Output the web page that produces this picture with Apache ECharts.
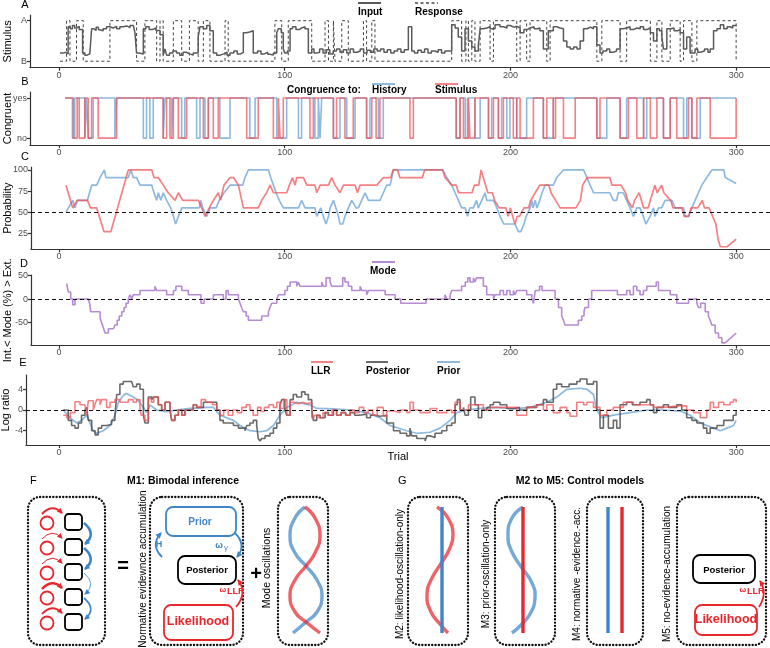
<!DOCTYPE html>
<html><head><meta charset="utf-8">
<script src="https://cdn.jsdelivr.net/npm/echarts@6/dist/echarts.min.js"></script>
<style>html,body{margin:0;padding:0;background:#fff}#c{width:770px;height:648px}</style>
</head><body><div id="c"></div>
<script>
// ---------------- DATA ----------------
const trialTicks = [0, 100, 200, 300];
const stimTickValues = [0, 1];
const stimTickLabels = ['B', 'A'];
const congTickLabels = ['no', 'yes'];
const probTicks = [25, 50, 75, 100];
const modeTicks = [-50, 0, 50];
const logTicks = [-4, 0, 4];

const aInput = [[0.5,0.2],[2,0.22],[3,0.18],[4.1,0.85],[5,0.8],[6,0.88],[7,0.82],[8,0.86],[9,0.78],[10.5,0.2],[11.5,0.15],[12.5,0.18],[13.7,0.15],[14.5,0.8],[15.5,0.76],[16.5,0.84],[17.5,0.78],[18.2,0.75],[19.6,0.8],[21.1,0.85],[22.5,0.82],[24,0.86],[25.6,0.8],[27,0.85],[28.5,0.87],[30,0.83],[31.5,0.88],[33,0.85],[33.7,0.7],[34.4,0.2],[35.5,0.18],[37.4,0.8],[38.5,0.85],[40,0.78],[41.5,0.82],[43,0.76],[44.8,0.65],[46.2,0.15],[47,0.3],[47.7,0.15],[49,0.2],[50.5,0.25],[52.1,0.2],[53.5,0.15],[55,0.22],[56.5,0.18],[58,0.15],[59.5,0.2],[61.7,0.6],[62.5,0.85],[64,0.8],[65.5,0.88],[66.9,0.75],[68.4,0.2],[69.9,0.15],[71.5,0.18],[73,0.22],[74.5,0.15],[75.8,0.2],[77.5,0.25],[79,0.18],[80.5,0.22],[81.7,0.7],[83,0.72],[84.5,0.75],[86.1,0.2],[88,0.25],[89.5,0.18],[91,0.22],[92.5,0.17],[93.5,0.15],[95,0.2],[96.5,0.7],[97.2,0.8],[98.5,0.7],[99.4,0.3],[100.1,0.2],[101.2,0.25],[102.4,0.8],[103.5,0.85],[105,0.78],[106.5,0.82],[107.5,0.85],[109,0.8],[110.5,0.2],[112,0.3],[113,0.2],[114.2,0.22],[115.5,0.3],[117,0.2],[118.5,0.28],[120,0.18],[121.5,0.25],[123,0.3],[124.5,0.22],[126,0.28],[127.5,0.2],[129,0.3],[130.5,0.22],[132,0.25],[133.5,0.3],[135,0.2],[136.5,0.27],[138,0.22],[139.5,0.3],[141,0.25],[142.5,0.3],[144,0.22],[145.5,0.28],[147,0.2],[148.5,0.25],[150,0.3],[151.5,0.22],[153,0.28],[154.8,0.85],[156.3,0.25],[157.5,0.2],[159,0.27],[160.5,0.22],[162,0.3],[163.5,0.2],[165,0.25],[166.5,0.22],[168,0.28],[169.5,0.2],[171,0.25],[174,0.9],[175.5,0.82],[176.9,0.6],[178.4,0.25],[179.9,0.8],[181.4,0.5],[182.9,0.35],[184.3,0.25],[185.8,0.4],[186.6,0.8],[188,0.82],[189.6,0.85],[191,0.8],[193.2,0.9],[195.4,0.85],[197,0.82],[198.5,0.88],[200,0.84],[201.5,0.86],[203,0.82],[204.3,0.7],[206,0.78],[207.5,0.82],[208.7,0.85],[210.5,0.8],[212,0.82],[213.1,0.75],[214.6,0.3],[216.8,0.75],[219,0.85],[220.5,0.82],[222,0.8],[223.5,0.5],[225,0.35],[226.5,0.3],[228,0.35],[229.5,0.3],[230.9,0.5],[232.4,0.8],[234,0.84],[235.5,0.8],[236.8,0.85],[238.3,0.4],[239.7,0.2],[241,0.25],[242.7,0.3],[244,0.22],[245.6,0.25],[247,0.3],[248.6,0.8],[250,0.82],[251.5,0.85],[253,0.78],[254.5,0.82],[256,0.8],[257.5,0.85],[259,0.78],[260.5,0.82],[262,0.7],[263.4,0.5],[264.9,0.8],[266,0.75],[267.1,0.6],[267.8,0.3],[269.3,0.8],[271,0.82],[272.5,0.75],[274,0.78],[275.2,0.7],[276.7,0.3],[278.1,0.6],[279.6,0.2],[281.8,0.3],[283,0.22],[284.1,0.25],[286,0.3],[287.5,0.22],[288.5,0.3],[290,0.75],[291.5,0.8],[293,0.9],[294.5,0.8],[296,0.85],[297.3,0.82],[298.5,0.88],[300,0.9]];

const aResponse = [[0.5,0],[3.4,1],[4.9,0],[7.8,1],[10.8,0],[22.6,1],[34.4,0],[38.1,1],[43.3,0],[44.8,1],[46.2,0],[50.7,1],[54.4,0],[57.8,1],[61.7,0],[64,1],[66.9,0],[73.6,1],[75,0],[95.7,1],[98.7,0],[101.6,1],[112,0],[117.9,1],[119.4,0],[121.6,1],[122.3,0],[125.3,1],[128.2,0],[134.9,1],[136.3,0],[138.6,1],[140,0],[174,1],[178.4,0],[180.3,1],[181.4,0],[182.9,1],[184.3,0],[186.6,1],[191,0],[192.5,1],[202.8,0],[204.3,1],[207.2,0],[208.7,1],[216.1,0],[217.6,1],[238.3,0],[240.5,1],[248.6,0],[251.5,1],[262,0],[264.9,1],[267.1,0],[270.8,1],[275.2,0],[276.7,1],[280.4,0],[282.6,1],[300,1],[300,0]];

const bStimulus = [[2.7,1],[6.4,0],[8.1,1],[9,0],[11.5,1],[13,0],[14.5,1],[17.4,0],[25.6,1],[46.2,0],[47.7,1],[49.2,0],[50.7,1],[52.9,0],[56.6,1],[64,0],[66.2,1],[68.4,0],[70.6,1],[83.2,0],[88.3,1],[95,0],[97.2,1],[98,0],[99.4,1],[111.2,0],[112.7,1],[121.6,0],[123,1],[126.7,0],[130.4,1],[136.3,0],[138.6,1],[140.5,0],[142.2,1],[155.5,0],[157,1],[176,0],[177.7,1],[179.2,0],[181.4,1],[182.1,0],[184.3,1],[190.3,0],[192.5,1],[194.7,0],[196.9,1],[201.3,0],[202.8,1],[204.3,0],[210.2,1],[214.6,0],[216.1,1],[219,0],[220,1],[223.5,0],[228.7,1],[238.3,0],[239.7,1],[248.6,0],[252.3,1],[256,0],[259,1],[262,0],[264.9,1],[267.8,0],[270.8,1],[273.7,0],[278.9,1],[280.4,0],[282.6,1],[288.5,0],[300,1]];

const bHistory = [[2.7,1],[6,0],[7,1],[11.5,0],[12.3,1],[13,0],[15.2,1],[24.8,0],[25.6,1],[37.4,0],[38.8,1],[40.3,0],[41.8,1],[46.2,0],[47,1],[49.9,0],[50.7,1],[54.4,0],[55.8,1],[61,0],[62.5,1],[64.7,0],[66.2,1],[71.3,0],[75.8,1],[84.6,0],[86.9,1],[96.5,0],[100.9,1],[106.1,0],[107.5,1],[113.4,0],[114.9,1],[115.7,0],[116.4,1],[121.6,0],[124.5,1],[127.5,0],[131.2,1],[136.3,0],[137.8,1],[141.5,0],[143.7,1],[176,0],[177.7,1],[180,0],[181,1],[184.3,0],[186.6,1],[190.3,0],[191.7,1],[194.7,0],[196.1,1],[198.4,0],[199.8,1],[202.8,0],[207.2,1],[214.6,0],[219,1],[238.3,0],[242.7,1],[248.6,0],[251.5,1],[259,0],[260.4,1],[267.8,0],[270.8,1],[276.7,0],[278.1,1],[280.4,0],[284.1,1],[300,1]];

const cStimulus = [[3.1,82],[6.1,55],[8.1,64],[12.6,64],[14,55],[16.7,55],[19.9,27],[23,27],[30.7,100],[41.1,100],[42.1,91],[44,91],[46.2,82],[48.4,73],[51.4,64],[52.9,73],[54.8,64],[61.7,64],[63.2,55],[64.7,45],[66.6,55],[68.4,64],[70.6,73],[71.6,64],[73.1,82],[75.8,91],[77.3,91],[79.5,82],[81.7,55],[88.3,55],[89.8,64],[92,73],[93.5,82],[95,73],[100.9,73],[102.1,82],[103.5,91],[104.6,82],[105.3,91],[108.3,91],[109.8,82],[113.4,82],[114.2,73],[115.7,82],[119.4,82],[120.8,91],[122.3,82],[124.5,73],[126,82],[131.2,82],[132.2,73],[133.4,82],[140.8,82],[143.7,91],[147,91],[148,100],[150,100],[151,91],[161,91],[162,100],[170,100],[171,91],[174,82],[176,82],[177,73],[183,73],[184,82],[186,82],[187,100],[189,82],[190,73],[192,73],[193,64],[195,55],[198,55],[199,45],[200,55],[201,45],[202,36],[203,45],[204,45],[206,55],[208,55],[209,64],[211,73],[213,82],[217,82],[218,73],[220,64],[222,55],[229,55],[231,64],[232,82],[234,91],[244,91],[245,82],[249,82],[251,73],[252,64],[254,55],[255,64],[257,73],[258,64],[259,55],[261,55],[262,64],[263,73],[264,82],[265,73],[267,82],[268,73],[271,64],[272,55],[276,55],[277,45],[279,45],[280,55],[283,55],[285,64],[286,55],[288,55],[291,36],[292,18],[293,9],[296,9],[300,18]];

const cHistory = [[3.1,50],[6.1,64],[7.1,55],[8.1,64],[12.6,64],[14.5,82],[16.7,82],[18.2,91],[20.1,100],[20.8,91],[30.7,91],[31.8,100],[32.9,91],[34.4,91],[35.9,82],[41.1,82],[42.1,73],[43.3,64],[44,73],[45.1,64],[46.2,73],[47.7,64],[49.5,55],[50.7,45],[51.7,36],[52.9,45],[54.4,55],[62.2,55],[62.8,64],[63.7,55],[65.4,45],[66.9,55],[69.6,55],[71,64],[73.1,73],[75.8,82],[81.4,82],[82.4,91],[83.9,100],[92.8,100],[93.8,91],[95,82],[96.2,73],[97.6,64],[99.4,55],[106.1,55],[107.5,64],[109,55],[113.4,55],[114.2,45],[116,55],[117.1,45],[118.3,36],[119.4,45],[120.1,55],[121.6,64],[122.7,55],[123.8,45],[124.5,36],[125.7,36],[126.7,45],[128.2,55],[129.7,64],[131.6,55],[132.6,55],[134.1,64],[135.6,73],[137.1,64],[142.2,64],[143.7,73],[145.2,82],[146.7,82],[148.2,100],[170,100],[171.8,91],[174,82],[175.5,73],[177,64],[178.4,55],[180,55],[181,45],[182,55],[183.6,55],[185,64],[185.8,55],[187.3,64],[188.8,73],[189.5,64],[192.5,64],[194,55],[195.4,45],[197,36],[202,36],[203.6,27],[204.6,27],[206,36],[207,45],[208.7,55],[209.5,64],[210,55],[211,64],[211.7,55],[213,64],[214,73],[215.4,82],[219,82],[220.5,91],[223.5,100],[232.4,100],[233.9,91],[235.3,82],[236.8,73],[244,73],[245.6,64],[247,64],[247.8,73],[250,73],[251.5,64],[253,55],[254.5,45],[256,55],[257.4,55],[258.9,45],[260,36],[261.9,45],[263.4,55],[264,45],[265.6,55],[267,55],[268.5,64],[271.5,64],[273,55],[276.7,55],[277.4,45],[278.9,45],[280.4,55],[281.8,64],[283.3,73],[284.8,82],[285.5,82],[287,91],[289.3,100],[294.5,100],[295.2,91],[300,84]];

const dMode = [[3.4,33],[4.1,15],[5.2,0],[6.1,-12],[7.1,0],[13,0],[13.7,-12],[14,-27],[18.2,-40],[18.9,-50],[19.6,-60],[20.4,-72],[21.9,-63],[24.1,-63],[24.8,-55],[25.8,-45],[26.7,-36],[27.8,-27],[28.8,-18],[29.7,-9],[30.7,0],[31.5,9],[32.2,0],[32.9,9],[35.9,18],[42.5,27],[43.3,18],[47.7,9],[50.7,18],[51.8,27],[54.4,18],[57.3,9],[62.9,-9],[64.3,0],[68.4,9],[72.8,0],[74,18],[75,9],[79.5,0],[80.2,-9],[80.9,-18],[81.7,-27],[82.9,-36],[83.9,-45],[89.8,-36],[92.8,-27],[93.5,-18],[94.2,-9],[96.5,0],[97.2,9],[100.1,18],[101.2,27],[102.4,36],[105.3,27],[106,36],[106.8,27],[116.4,36],[117.1,27],[118.3,45],[120.1,36],[120.8,27],[125.7,45],[126.7,36],[128.2,27],[129.7,18],[133.4,27],[134.1,18],[136.3,9],[137.1,18],[144.5,9],[148.9,0],[151.4,-9],[162.6,0],[171,9],[171.8,0],[173.3,9],[174,18],[178.4,27],[180,36],[181.1,45],[182.1,36],[183.6,45],[184.3,36],[185,45],[188,27],[189.5,9],[192.5,0],[193.2,9],[195.4,18],[196.9,9],[198.4,18],[199.8,9],[201.3,18],[202,9],[202.8,18],[207.2,9],[209.5,0],[210.2,-9],[211,18],[212.9,27],[214,18],[219.8,0],[221.3,-18],[222.7,-36],[223.5,-45],[224.2,-55],[230.1,-45],[231.6,-36],[232.6,-27],[233,-18],[234.6,0],[236,18],[247.4,9],[251.5,18],[253,9],[254.5,27],[256,18],[257.4,9],[258.9,18],[260.4,27],[264.6,36],[265.6,18],[270.8,9],[273.7,-9],[278.9,0],[282.6,-9],[283.3,-18],[284.3,-9],[286.3,-27],[287.7,-36],[288.5,-45],[289.2,-55],[290.7,-72],[292.2,-82],[293.7,-93],[295.2,-93]];
const dModeTail = [[295.2,-93],[300,-72]];

const eLLR = [[1.9,-1],[3.4,-1.5],[5,-0.5],[7.1,1.6],[9.3,1],[11.5,1],[12.3,-1],[13,1.8],[15.2,0],[15.9,1],[16.7,2],[18.2,1],[18.9,2],[21.1,0.5],[22.6,1.5],[24.8,2],[27,1.5],[30.7,2],[32.9,1.5],[34.4,2],[35.9,0],[36.5,-1],[38,-2],[39.6,2.2],[41,1.5],[42,2.5],[44,1],[45.5,0],[47,1.5],[49.2,0],[50,-2],[51.4,-1],[53,0],[54.4,-1],[56,0],[59.5,1],[61,0.5],[63,2],[65,1.5],[68,1],[69.9,0],[71.3,-1],[73,0],[75,-1],[77,0],[79,-0.5],[81,0.5],[83,1],[84.6,0],[86,-1],[88,0.5],[89.5,-0.3],[91,0.5],[93,1],[95,0.5],[96.5,1.5],[98,0.3],[99.5,2],[101,-1],[102.4,1.5],[104,1.2],[106,1.5],[108,1.2],[110,1.5],[112,-1.5],[113,-1],[115,-1.5],[117,-0.5],[119,-1],[121,0],[123,-1],[125,-0.5],[127,-1],[129,0],[131,-0.5],[133,0.5],[135,-0.5],[137,0],[139,-1],[141,0.5],[143.7,-1.2],[145.2,-0.2],[148.2,-0.5],[151.1,0],[154,-0.5],[155.5,1.5],[157,0],[160,-0.5],[164.4,0.3],[167.4,-0.5],[171.8,0],[174,-0.5],[175.5,1.5],[177.7,0],[181.4,1],[186.6,1],[188,0],[191,0.5],[201.3,0.5],[202.8,-1],[204.3,-1],[207.2,0.5],[211.6,1],[214.6,0],[216.1,1],[219,-0.5],[222,0.5],[225,-0.5],[226.4,-1.2],[229.4,1.5],[232.4,1],[233.9,1.5],[236.8,0.5],[239.7,-1],[242.7,0],[245.6,0.5],[250,1.5],[254.5,1],[258.9,1],[263.4,0.5],[267.8,0.8],[275.2,0.8],[278.1,0],[281.1,-0.5],[284.1,-1.5],[287,0],[288.5,1.5],[290,0.5],[292.2,1.5],[294.5,1],[297.3,1.5],[298.8,2],[300,1.5]];

const ePosterior = [[1.9,0],[4.1,-2],[5.6,-3],[7.1,-3.5],[8.6,-2.5],[10,-1],[11.5,0],[12.3,0.5],[13,-2],[14.5,-4],[16,-4.8],[17.4,-3.5],[18.9,-3],[21.1,-2.8],[23.3,-2],[24.8,-1],[25.6,3],[27,5],[28.5,5.5],[32.2,5.5],[32.9,4.5],[34.4,5],[35.9,4],[37.4,-1],[38.1,-2.5],[39.6,2.5],[41.1,2],[41.8,2.5],[44,1],[45.5,0],[47,1.5],[49.2,0],[49.9,-2],[51.4,-1],[52.9,0],[54.4,-1],[55.8,0],[59.5,1],[61,0.5],[64,1.5],[68.4,1.5],[69.9,0],[71.3,-2],[72.8,-2.5],[77.3,-3],[79.5,-3.5],[82.4,-4],[83.2,-3],[84.6,-2.5],[86.1,-2],[87.6,-3],[88.3,-5.5],[89.1,-6],[89.8,-5.5],[91.3,-5],[93.5,-4.5],[95,-3.5],[96.5,-2.5],[97.9,1],[98.7,2],[100.1,0],[100.9,-1],[102.4,2],[103.8,3],[105.3,2.5],[107.5,3.5],[109,3],[110.5,2],[112,0],[112.7,-2],[114.2,-1],[115.7,-1.5],[117.9,-0.5],[119.4,-1],[121.6,0],[123,-1],[125,-0.5],[127,-1],[129,-0.5],[131,-1],[133,-0.8],[136.3,-1.5],[138,-1],[140,-1.2],[142.2,-1],[145.2,-2.5],[148.2,-4],[151.1,-4.5],[154,-5],[155.5,-3.5],[156.3,-5],[158.5,-5.5],[162.2,-6],[163,-5],[164.4,-5.3],[166.6,-4.5],[169.6,-4],[171.8,-3],[174,-2.5],[175.5,1],[176.5,2],[177.7,0],[179.2,0.5],[179.9,-1],[181.4,0],[182.4,2.5],[184.3,1],[185.8,-1.5],[187.3,0],[189.6,0.5],[191,1],[192.5,1.5],[195.4,1],[198.4,0.3],[201.3,0.5],[204,0],[207.2,0.5],[211.6,1],[214.6,2],[216.1,1.5],[219,4],[220.5,5],[222.7,4.5],[226,5],[229.4,5.5],[230.9,6],[233.9,5],[236.8,5.5],[238.3,0],[239.7,-3.5],[241.2,-1],[243.4,-3.5],[245.6,-2],[247.1,-3.5],[248.6,1],[251.5,1.5],[254,1],[257.4,1.5],[260.4,2],[261.9,1],[263.4,-0.5],[264.9,0.5],[267.8,1],[270,0.5],[273.7,1],[275.9,0],[278.1,-1.5],[280.4,-2],[282.6,-2.5],[285.5,-3.5],[287,-4.5],[288.5,-3.5],[291.5,-3],[294.5,-2],[297.3,-2],[298.7,-1],[300,0]];

const ePrior = [[1.9,0],[4.9,-1.5],[7.8,-2.5],[10,-2],[12.3,-1],[15.2,-4],[16.7,-4.5],[19.6,-4],[22.6,-3],[24.8,-1],[26.3,1.5],[28.5,2.8],[29.9,3.2],[32.9,2.5],[35.2,1.8],[37.4,0.5],[38.8,-0.5],[40.3,1],[43.3,0],[47.7,-0.3],[52.1,0],[58,0.3],[65.4,0.5],[68.4,0.5],[71.3,-1],[77.3,-2],[80.2,-3],[84.6,-4],[89.1,-4.2],[92,-4],[95,-3],[97.9,-1],[100.9,0.5],[105.3,1.5],[111.2,1],[114.2,0.3],[121.6,0.2],[129,0],[136.3,-0.5],[142.2,-1.5],[146.7,-3],[154,-4],[158.5,-4.5],[164.4,-4.3],[168.8,-3.5],[173.3,-2],[176.2,-0.5],[180.7,0],[186.6,0.3],[193.9,0.5],[201.3,0.2],[208.7,0.5],[216.1,1.5],[220.5,2.5],[225,4],[230.9,4.2],[233.9,4],[236.8,3],[238.3,0],[240.5,-1.5],[245.6,-1],[253,-0.5],[260.4,0],[267.8,0],[275.2,-0.2],[279.6,-1],[284.1,-2.5],[290,-3.5],[293,-4],[295.9,-3.5],[298.8,-3],[300,-2]];

// ---------------- STYLE ----------------
const FF = '"Liberation Sans", Arial, Helvetica, sans-serif';
const C_RED = 'rgba(240,80,85,0.72)';
const C_BLUE = 'rgba(110,165,215,0.78)';
const C_GRAY = '#5a5a5a';
const C_PURPLE = 'rgba(165,110,200,0.8)';
const D_RED = '#e8272d';
const D_BLUE = '#3f86c6';

const gridDefs = [
  {left:30, top:15, height:52.7, xmin:-12.8, ymin:-0.16, ymax:1.14, yticks:stimTickValues, ylab:v=>stimTickLabels[v], name:'Stimulus', gap:17},
  {left:30, top:92, height:53, xmin:-12.8, ymin:-0.17, ymax:1.15, yticks:stimTickValues, ylab:v=>congTickLabels[v], name:'Congruent', gap:17},
  {left:31, top:167, height:82.3, xmin:-12.4, ymin:6, ymax:103.5, yticks:probTicks, ylab:v=>String(v), name:'Probability', gap:18},
  {left:31, top:275, height:70.5, xmin:-12.4, ymin:-98.5, ymax:51, yticks:modeTicks, ylab:v=>String(v), name:'Int.< Mode (%) > Ext.', gap:18},
  {left:26, top:375, height:70, xmin:-14.6, ymin:-6.76, ymax:6.76, yticks:logTicks, ylab:v=>String(v), name:'Log ratio', gap:15}
];

const axisLineStyle = {color:'#333', width:1.2};
const grid = gridDefs.map(g => ({left:g.left, right:0, top:g.top, height:g.height, outerBoundsMode:'none', containLabel:false}));
const xAxis = gridDefs.map((g,i) => ({
  gridIndex:i, type:'value', min:g.xmin, max:315,
  axisLine:{show:true, onZero:false, lineStyle:axisLineStyle},
  axisTick:{show:true, length:3, lineStyle:axisLineStyle, customValues:trialTicks},
  axisLabel:{show:true, customValues:trialTicks, fontSize:9, color:'#4d4d4d', fontFamily:FF, margin:3},
  splitLine:{show:false},
  name: i===4 ? 'Trial' : '', nameLocation:'middle', nameGap:6, nameMoveOverlap:false,
  nameTextStyle:{fontSize:11, color:'#000', fontFamily:FF, verticalAlign:'top'}
}));
const yAxis = gridDefs.map((g,i) => ({
  gridIndex:i, type:'value', min:g.ymin, max:g.ymax,
  axisLine:{show:true, onZero:false, lineStyle:axisLineStyle},
  axisTick:{show:true, length:3, lineStyle:axisLineStyle, customValues:g.yticks},
  axisLabel:{show:true, customValues:g.yticks, formatter:g.ylab, fontSize:9, color:'#4d4d4d', fontFamily:FF, margin:3},
  splitLine:{show:false},
  name:g.name, nameLocation:'middle', nameGap:g.gap, nameMoveOverlap:false,
  nameTextStyle:{fontSize:11, color:'#000', fontFamily:FF}
}));

function line(i, data, color, width, opts) {
  return Object.assign({
    type:'line', xAxisIndex:i, yAxisIndex:i, data, showSymbol:false, symbol:'none',
    lineStyle:{color, width}, silent:true, z:3
  }, opts||{});
}
function dashRef(v) {
  return {silent:true, symbol:'none', label:{show:false},
    lineStyle:{color:'#111', type:[4,3], width:1}, data:[{yAxis:v}]};
}

const series = [
  line(0, aResponse, '#444', 1, {step:'end', lineStyle:{color:'#444', width:1, type:[3,2.5]}}),
  line(0, aInput, C_GRAY, 1.5, {step:'end'}),
  line(1, bHistory, C_BLUE, 1.6, {step:'end'}),
  line(1, bStimulus, C_RED, 1.6, {step:'end'}),
  line(2, cHistory, C_BLUE, 1.7, {markLine:dashRef(50)}),
  line(2, cStimulus, C_RED, 1.7),
  line(3, dMode, C_PURPLE, 1.6, {step:'end', markLine:dashRef(0)}),
  line(3, dModeTail, C_PURPLE, 1.6),
  line(4, ePrior, C_BLUE, 1.7, {markLine:dashRef(0)}),
  line(4, ePosterior, 'rgba(80,80,80,0.85)', 1.6, {step:'end'}),
  line(4, eLLR, C_RED, 1.6, {step:'end'})
];

// ---------------- GRAPHIC (labels, legends, schematic F/G) ----------------
const G = [];
function txt(x, y, text, o) {
  o = o || {};
  const st = {text, fill:o.fill||'#000', fontFamily:FF, fontSize:o.size||11, fontWeight:o.weight||'normal',
    align:o.align||'left', textAlign:o.align||'left', verticalAlign:'middle', textVerticalAlign:'middle'};
  G.push({type:'text', x, y, rotation:o.rot||0, style:st, z:10});
}
function seg(x1,y1,x2,y2,color,w,dash) {
  G.push({type:'line', shape:{x1,y1,x2,y2}, style:{stroke:color, lineWidth:w, lineDash:dash||null}, z:10});
}
function dotBox(x,y,w,h) {
  G.push({type:'rect', shape:{x,y,width:w,height:h,r:12},
    style:{fill:'none', stroke:'#111', lineWidth:2.3, lineDash:[0.2,3.1], lineCap:'round'}, z:5});
}
function rbox(x,y,w,h,color,lw,r) {
  G.push({type:'rect', shape:{x,y,width:w,height:h,r:r||6}, style:{fill:'#fff', stroke:color, lineWidth:lw||1.8}, z:6});
}
function arrow(x1,y1,cx,cy,x2,y2,color,w,hs) {
  G.push({type:'bezierCurve', shape:{x1,y1,x2,y2,cpx1:cx,cpy1:cy}, style:{fill:'none', stroke:color, lineWidth:w}, z:7});
  const dx=x2-cx, dy=y2-cy, L=Math.hypot(dx,dy), ux=dx/L, uy=dy/L;
  const s = hs || Math.max(4, w*2.2);
  const bx=x2-ux*s, by=y2-uy*s, px=-uy*s*0.6, py=ux*s*0.6;
  G.push({type:'polygon', shape:{points:[[x2+ux,y2+uy],[bx+px,by+py],[bx-px,by-py]]}, style:{fill:color}, z:7});
}
function wave(points, color) {
  G.push({type:'polyline', shape:{points, smooth:0.5}, style:{fill:'none', stroke:color, lineWidth:3.4, opacity:0.72}, z:7});
}

// panel letters
txt(25,5,'A',{align:'center'}); txt(25,82,'B',{align:'center'}); txt(25,157,'C',{align:'center'});
txt(24,264,'D',{align:'center'}); txt(23,363,'E',{align:'center'});
// legends
const LS = 10;
seg(358,3,381,3,C_GRAY,2); txt(358,12,'Input',{weight:'bold',size:LS});
seg(415,3,438,3,'#444',1.3,[3,2.5]); txt(415,12,'Response',{weight:'bold',size:LS});
txt(287,90,'Congruence to:',{weight:'bold',size:LS});
seg(372,84,395,84,C_BLUE,2); txt(372,90,'History',{weight:'bold',size:LS});
seg(435,84,458,84,C_RED,2); txt(435,90,'Stimulus',{weight:'bold',size:LS});
seg(372,262,395,262,C_PURPLE,2); txt(370,271,'Mode',{weight:'bold',size:LS});
seg(311,362,333,362,C_RED,2); txt(311,371,'LLR',{weight:'bold',size:LS});
seg(366,362,388,362,'rgba(80,80,80,0.85)',2); txt(366,371,'Posterior',{weight:'bold',size:LS});
seg(437,362,460,362,C_BLUE,2); txt(437,371,'Prior',{weight:'bold',size:LS});

// ---- F ----
txt(30,481,'F');
txt(183,481,'M1: Bimodal inference',{weight:'bold',align:'center',size:10.5});
dotBox(28,497,77,148);
const rowY = [522,547,572,597,622];
const redW = [2.2,1,1,2.6,1.8];
const blueW = [2.6,2.6,0.8,1.7];
rowY.forEach((cy,k) => {
  G.push({type:'circle', shape:{cx:47, cy:cy+1, r:6.5}, style:{fill:'none', stroke:D_RED, lineWidth:1.8}, z:6});
  rbox(65, cy-8, 17, 16, '#000', 1.8, 3.5);
  arrow(42, cy-8, 52, cy-19, 62, cy-9, D_RED, redW[k], 4.5);
  if (k < 4) arrow(84, cy+1, 97, cy+12, 85, cy+22, D_BLUE, blueW[k], 4.5);
});
txt(123,566,'=',{weight:'bold',size:20,align:'center'});
txt(143,569,'Normative evidewnce accumulation',{size:10,align:'center',rot:Math.PI/2});
dotBox(150,497,93,148);
rbox(166,507,70,29,D_BLUE,1.8,7); txt(200,522,'Prior',{fill:D_BLUE,weight:'bold',size:10,align:'center'});
rbox(178,556,58,28,'#000',1.8,7); txt(207,570,'Posterior',{weight:'bold',size:9.5,align:'center'});
rbox(164,605,69,35,D_RED,1.8,7); txt(198,622,'Likelihood',{fill:D_RED,weight:'bold',size:12.5,align:'center'});
arrow(162,557,150,545,161,533,D_BLUE,1.8,5); txt(159,545,'H',{fill:D_BLUE,weight:'bold',size:9,align:'center'});
arrow(235,533,247,545,237,557,D_BLUE,1.8,5); txt(219,546,'ω',{fill:D_BLUE,weight:'bold',size:9,align:'center'}); txt(224,548,'γ',{fill:D_BLUE,size:8});
arrow(236,607,248,593,238,580,D_RED,1.8,5); txt(223,590,'ω',{fill:D_RED,weight:'bold',size:8,align:'center'}); txt(227,592,'LLR',{fill:D_RED,weight:'bold',size:9});
txt(256,574,'+',{weight:'bold',size:20,align:'center'});
txt(267,568,'Mode oscillations',{size:10.5,align:'center',rot:Math.PI/2});
dotBox(278,497,50,148);
wave([[305,507],[295,518],[290,536],[295,553],[306,566],[317,580],[322,596],[317,612],[306,622],[293,633]], D_BLUE);
wave([[305,507],[315,518],[320,536],[315,553],[306,566],[295,580],[290,596],[295,612],[306,622],[320,633]], D_RED);

// ---- G ----
txt(398,481,'G');
txt(580,481,'M2 to M5: Control models',{weight:'bold',align:'center',size:10.5});
txt(400,574,'M2: likelihood-oscillation-only',{size:10,align:'center',rot:Math.PI/2});
dotBox(408,497,60,148);
seg(442,507,442,633,D_BLUE,3.4);
wave([[437,507],[448,518],[453,535],[449,550],[442,562],[432,578],[427,595],[431,612],[440,624],[448,633]], D_RED);
txt(486,574,'M3: prior-oscillation-only',{size:10,align:'center',rot:Math.PI/2});
dotBox(495,497,60,148);
seg(523,507,523,633,D_RED,3.4);
wave([[523,507],[512,518],[508,536],[512,552],[522,568],[532,583],[535,598],[530,614],[520,626],[512,633]], D_BLUE);
txt(577,574,'M4: normative -evidence.-acc.',{size:10,align:'center',rot:Math.PI/2});
dotBox(587,497,56,148);
seg(608,507,608,633,D_BLUE,3.4);
seg(622,507,622,633,D_RED,3.4);
txt(667,574,'M5: no-evidence-accumulation',{size:10,align:'center',rot:Math.PI/2});
dotBox(677,497,89,148);
rbox(693,555,62,28,'#000',1.8,7); txt(724,570,'Posterior',{weight:'bold',size:9.5,align:'center'});
rbox(695,605,62,30,D_RED,1.8,7); txt(726,620,'Likelihood',{fill:D_RED,weight:'bold',size:12.5,align:'center'});
arrow(759,607,768,593,760,581,D_RED,1.8,5); txt(743,590,'ω',{fill:D_RED,weight:'bold',size:8,align:'center'}); txt(747,592,'LLR',{fill:D_RED,weight:'bold',size:9});

const chart = echarts.init(document.getElementById('c'), null, {renderer:'canvas', width:770, height:648});
chart.setOption({
  animation:false,
  backgroundColor:'#fff',
  textStyle:{fontFamily:FF},
  grid, xAxis, yAxis, series,
  graphic:{elements:G}
});
</script></body></html>
